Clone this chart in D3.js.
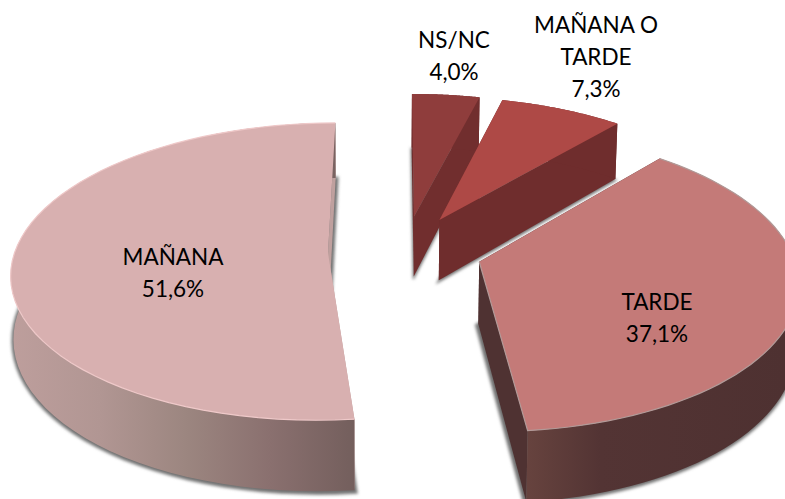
<!DOCTYPE html>
<html>
<head>
<meta charset="utf-8">
<script src="https://cdn.jsdelivr.net/npm/d3@7"></script>
<style>
  html, body { margin: 0; padding: 0; background: #fff; overflow: hidden; }
  text { font-family: Lato, "Open Sans", sans-serif; font-size: 22.5px; fill: #000; }
</style>
</head>
<body>
<div id="chart"></div>
<script>
// data, clockwise from the bottom of the pie
var categories = ["MAÑANA", "NS/NC", "MAÑANA O TARDE", "TARDE"];
var values = [51.6, 4.0, 7.3, 37.1];

// styles and label spots, one entry per category
var topColors = ["#d8b0b0", "#8f3d3c", "#ae4946", "#c47a78"];
var wallColors = ["url(#wall0)", "#712e2e", "#6f2d2d", "url(#wall3)"];
var radialColors = ["#bfa09e", "#712e2e", "#6f2d2d", "#4f3232"];
var rimColors = ["#efc9c9", "none", "none", "#b29a98"];
var labelX = [173, 454, 596, 657];
var labelY = [265, 48, 33, 310];
var drawOrder = [1, 2, 0, 3];

var width = 785, height = 499;
var cx = 405, cy = 251;      // pie centre on the page
var R = 313;                 // radius
var explode = 77;            // how far slices are pulled out
var tilt = 0.466;            // vertical squash of the pie
var camera = 8 * R;          // perspective distance
var depth = 62;              // thickness of the pie

var svg = d3.select("#chart")
  .append("svg")
    .attr("width", width)
    .attr("height", height)
    .style("display", "block");

var defs = svg.append("defs");

function addGradient(id, stops) {
  var g = defs.append("linearGradient")
    .attr("id", id)
    .attr("gradientUnits", "userSpaceOnUse")
    .attr("x1", stops[0][0]).attr("x2", stops[stops.length - 1][0])
    .attr("y1", 0).attr("y2", 0);
  stops.forEach(function(s) {
    g.append("stop")
      .attr("offset", (s[0] - stops[0][0]) / (stops[stops.length - 1][0] - stops[0][0]))
      .attr("stop-color", s[1]);
  });
}
addGradient("wall0", [[14, "#bd9e9c"], [100, "#b19693"], [185, "#9c8680"], [270, "#8a706f"], [353, "#745f5d"]]);
addGradient("wall3", [[522, "#68443f"], [600, "#533434"], [785, "#4e3131"]]);

defs.append("filter")
    .attr("id", "soft")
    .attr("x", "-10%").attr("y", "-10%").attr("width", "120%").attr("height", "120%")
  .append("feGaussianBlur")
    .attr("stdDeviation", 1.8);

var pie = d3.pie()
  .sort(null)
  .startAngle(174 * Math.PI / 180)
  .endAngle((174 + 360) * Math.PI / 180);

var slices = pie(values);

// plane point -> page, lower = true gives the bottom face of the pie
function project(u, v, lower) {
  var s = camera / (camera - v);
  var x = cx + u * s;
  var y = cy + v * tilt * s;
  if (lower) {
    y += depth * s;
    x = 370 + (x - 370) * 0.992;
  }
  return [x, y];
}

var line = d3.line();

slices.forEach(function(d, i) {
  var mid = (d.startAngle + d.endAngle) / 2;
  d.du = explode * Math.sin(mid);
  d.dv = -explode * Math.cos(mid);
  d.rim = d3.range(0, 61).map(function(t) {
    var a = d.startAngle + (d.endAngle - d.startAngle) * t / 60;
    return [d.du + R * Math.sin(a), d.dv - R * Math.cos(a)];
  });
  d.apex = [d.du, d.dv];
});

function ring(d, lower) {
  return d.rim.map(function(p) { return project(p[0], p[1], lower); });
}
function tip(d, lower) {
  return project(d.apex[0], d.apex[1], lower);
}

drawOrder.forEach(function(i) {
  var d = slices[i];
  var g = svg.append("g").attr("class", "slice");
  var top = ring(d, false), low = ring(d, true);
  var a = tip(d, false), b = tip(d, true);

  // shadow of the bottom face
  var floor = [b].concat(low);
  var fx = d3.mean(floor, function(p) { return p[0]; });
  var fy = d3.mean(floor, function(p) { return p[1]; });
  g.append("path")
    .attr("d", line(floor.map(function(p) {
      return [fx + (p[0] - fx) * 1.012, fy + (p[1] - fy) * 1.012 + 1];
    })) + "Z")
    .attr("fill", "#6f6f6f")
    .attr("stroke", "#8a8a8a")
    .attr("stroke-width", 1.5)
    .attr("filter", "url(#soft)");

  // straight walls
  g.append("path")
    .attr("d", line([a, top[0], low[0], b]) + "Z")
    .attr("fill", radialColors[i]);
  g.append("path")
    .attr("d", line([a, top[60], low[60], b]) + "Z")
    .attr("fill", radialColors[i]);

  // curved wall
  g.append("path")
    .attr("d", line(top.concat(low.slice().reverse())) + "Z")
    .attr("fill", wallColors[i]);

  // top face
  g.append("path")
    .attr("d", line([a].concat(top)) + "Z")
    .attr("fill", topColors[i]);

  if (rimColors[i] != "none") {
    g.append("path")
      .attr("d", line(i == 3 ? [a, top[60]].concat(top.slice().reverse()) : top))
      .attr("fill", "none")
      .attr("stroke", rimColors[i])
      .attr("stroke-width", 1.2);
  }
});

// labels
categories.forEach(function(name, i) {
  var lines = name.length > 10 ? [name.slice(0, name.lastIndexOf(" ")), name.slice(name.lastIndexOf(" ") + 1)] : [name];
  lines.push(values[i].toFixed(1).replace(".", ",") + "%");
  var t = svg.append("text")
    .attr("x", labelX[i])
    .attr("y", labelY[i])
    .attr("text-anchor", "middle");
  lines.forEach(function(l, n) {
    t.append("tspan")
      .attr("x", labelX[i])
      .attr("dy", n == 0 ? 0 : 32)
      .text(l);
  });
});
</script>
</body>
</html>
